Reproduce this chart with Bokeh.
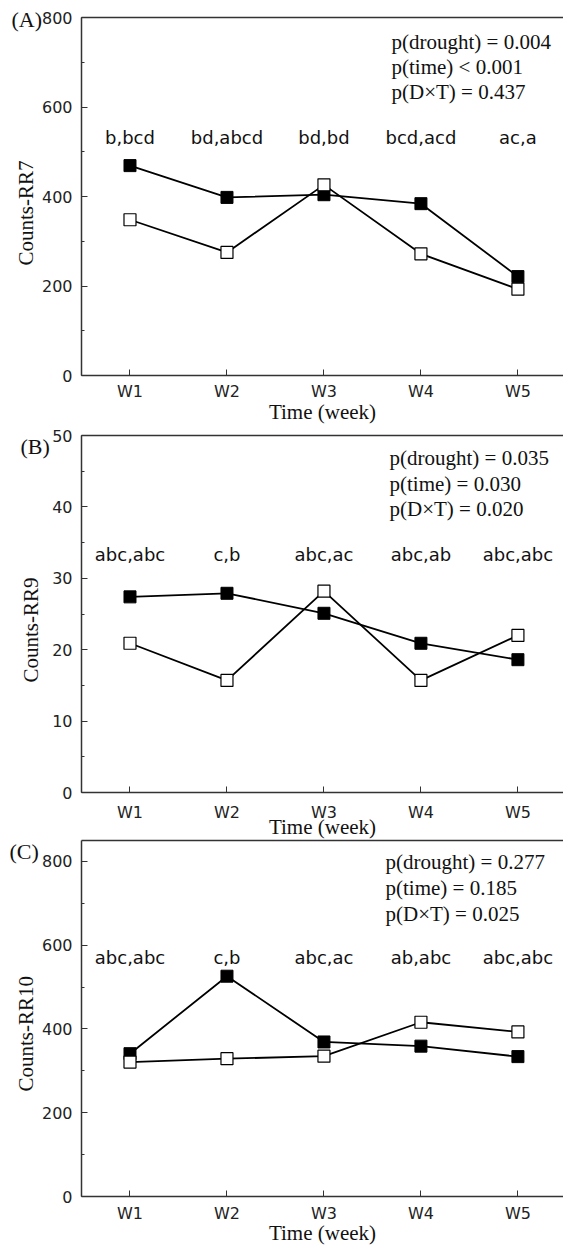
from bokeh.plotting import figure
from bokeh.layouts import column
from bokeh.models import Range1d, FixedTicker, SingleIntervalTicker, LinearAxis, Label, Title
from bokeh.core.properties import value
from bokeh.embed import file_html
from bokeh.resources import INLINE

# ---------------- data ----------------
weeks = ["W1", "W2", "W3", "W4", "W5"]

rr7_filled = [469, 398, 404, 384, 221]
rr7_open = [348, 275, 426, 272, 193]
rr9_filled = [27.4, 27.9, 25.1, 20.9, 18.6]
rr9_open = [20.9, 15.7, 28.2, 15.7, 22.0]
rr10_filled = [341, 526, 369, 359, 334]
rr10_open = [321, 329, 335, 416, 393]

letters_rr7 = ["b,bcd", "bd,abcd", "bd,bd", "bcd,acd", "ac,a"]
letters_rr9 = ["abc,abc", "c,b", "abc,ac", "abc,ab", "abc,abc"]
letters_rr10 = ["abc,abc", "c,b", "abc,ac", "ab,abc", "abc,abc"]

stats_rr7 = ["p(drought) = 0.004", "p(time) < 0.001", "p(D\u00d7T) = 0.437"]
stats_rr9 = ["p(drought) = 0.035", "p(time) = 0.030", "p(D\u00d7T) = 0.020"]
stats_rr10 = ["p(drought) = 0.277", "p(time) = 0.185", "p(D\u00d7T) = 0.025"]

panel_tags = ["(A)", "(B)", "(C)"]
y_titles = ["Counts-RR7", "Counts-RR9", "Counts-RR10"]
x_title = "Time (week)"
y_max = [800, 50, 850]
y_step = [200, 10, 200]

# ---------------- style ----------------
SANS = "DejaVu Sans"
SERIF = "Liberation Serif"
AXIS_COLOR = "#333333"
TICK_TEXT = "#222222"
TEXT = "#111111"

layouts = [
    dict(h=424, bt=17, bb=49, lv=531, tag_off=-70, tag_so=-28, st_dx=310, st_dy=[-24, -49, -74],
         yt_off=110, yt_so=1, xl_so=6, xt_so=-7),
    dict(h=415, bt=11, bb=47, lv=33.4, tag_off=-61, tag_so=-46, st_dx=308, st_dy=[-22, -48, -73],
         yt_off=110, yt_so=14, xl_so=10, xt_so=-19),
    dict(h=406, bt=1, bb=49, lv=570, tag_off=-72, tag_so=-46, st_dx=304, st_dy=[-21, -47, -73],
         yt_off=105, yt_so=2, xl_so=7, xt_so=-9),
]


def make_panel(filled, opened, letters, stats, tag, ytitle, ymax, ystep, cfg):
    xs = list(range(1, len(weeks) + 1))
    p = figure(width=563, height=cfg["h"], x_range=Range1d(0.5, 5.47), y_range=Range1d(0, ymax),
               output_backend="svg", toolbar_location=None,
               min_border_left=81, min_border_right=0,
               min_border_top=cfg["bt"], min_border_bottom=cfg["bb"])
    p.outline_line_color = None
    p.grid.visible = False
    p.background_fill_color = "white"
    p.border_fill_color = "white"

    # panel tag, e.g. "(A)", drawn as the plot title pushed beside the frame corner
    p.title.text = tag
    p.title.align = "left"
    p.title.vertical_align = "bottom"
    p.title.offset = cfg["tag_off"]
    p.title.standoff = cfg["tag_so"]
    p.title.text_font = SERIF
    p.title.text_font_size = "22px"
    p.title.text_font_style = "normal"
    p.title.text_color = TEXT

    xa = p.xaxis[0]
    xa.ticker = FixedTicker(ticks=xs)
    xa.major_label_overrides = {i: w for i, w in zip(xs, weeks)}
    xa.major_tick_in = 6
    xa.major_tick_out = 0
    xa.minor_tick_in = 0
    xa.minor_tick_out = 0
    xa.axis_line_color = AXIS_COLOR
    xa.axis_line_width = 1.5
    xa.major_tick_line_color = AXIS_COLOR
    xa.major_label_text_font = SANS
    xa.major_label_text_font_size = "16px"
    xa.major_label_text_color = TICK_TEXT
    xa.major_label_standoff = cfg["xl_so"]

    ya = p.yaxis[0]
    ya.ticker = SingleIntervalTicker(interval=ystep, num_minor_ticks=2)
    ya.major_tick_in = 6
    ya.major_tick_out = 0
    ya.minor_tick_in = 3
    ya.minor_tick_out = 0
    ya.axis_line_color = AXIS_COLOR
    ya.axis_line_width = 1.5
    ya.major_tick_line_color = AXIS_COLOR
    ya.minor_tick_line_color = AXIS_COLOR
    ya.major_label_text_font = SANS
    ya.major_label_text_font_size = "16px"
    ya.major_label_text_color = TICK_TEXT
    ya.major_label_standoff = 9

    top = LinearAxis(ticker=FixedTicker(ticks=[]), major_tick_in=0, major_tick_out=0,
                     minor_tick_in=0, minor_tick_out=0, major_label_standoff=0,
                     axis_line_color=AXIS_COLOR, axis_line_width=1.5)
    p.add_layout(top, "above")

    # axis titles as side-panel titles (lets them sit where the reference has them)
    p.add_layout(Title(text=ytitle, align="left", vertical_align="bottom",
                       offset=cfg["yt_off"], standoff=cfg["yt_so"],
                       text_font=SERIF, text_font_size="21px", text_font_style="normal",
                       text_color=TEXT), "left")
    p.add_layout(Title(text=x_title, align="center", vertical_align="top",
                       standoff=cfg["xt_so"],
                       text_font=SERIF, text_font_size="21px", text_font_style="normal",
                       text_color=TEXT), "below")

    p.line(xs, filled, line_color="black", line_width=1.8)
    p.line(xs, opened, line_color="black", line_width=1.8)
    p.scatter(xs, filled, marker="square", size=12, fill_color="black",
              line_color="black", line_width=1)
    p.scatter(xs, opened, marker="square", size=12, fill_color="white",
              line_color="black", line_width=1.2)

    p.text(x=xs, y=[cfg["lv"]] * len(xs), text=letters, text_font=value(SANS),
           text_font_size="18px", text_align="center", text_baseline="middle",
           text_color=TEXT)

    for s, dy in zip(stats, cfg["st_dy"]):
        p.add_layout(Label(x=0.5, y=ymax, x_offset=cfg["st_dx"], y_offset=dy, text=s,
                           text_font=SERIF, text_font_size="21px", text_align="left",
                           text_baseline="middle", text_color=TEXT))
    return p


pa = make_panel(rr7_filled, rr7_open, letters_rr7, stats_rr7, panel_tags[0], y_titles[0],
                y_max[0], y_step[0], layouts[0])
pb = make_panel(rr9_filled, rr9_open, letters_rr9, stats_rr9, panel_tags[1], y_titles[1],
                y_max[1], y_step[1], layouts[1])
pc = make_panel(rr10_filled, rr10_open, letters_rr10, stats_rr10, panel_tags[2], y_titles[2],
                y_max[2], y_step[2], layouts[2])

layout = column(pa, pb, pc, spacing=0)
open("out.html", "w").write(file_html(layout, INLINE))
